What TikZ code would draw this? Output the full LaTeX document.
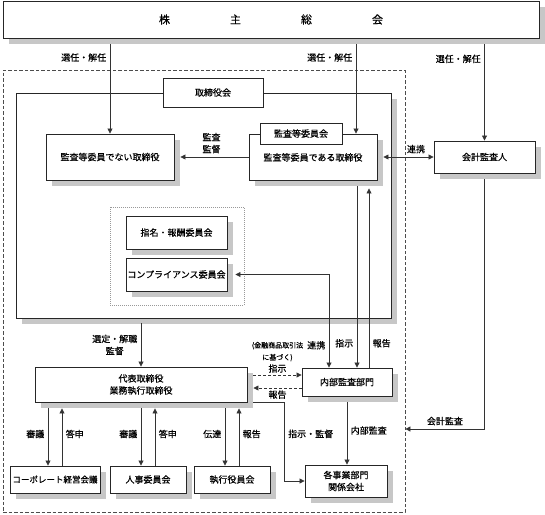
\documentclass[tikz,border=0pt]{standalone}
\usepackage{fontspec}
\setmainfont{Noto Sans CJK JP}[FakeBold=0.5]
\usetikzlibrary{shadows,arrows.meta}
\newcommand\smallnote{\fontsize{7}{9}\selectfont}

\begin{document}
\begin{tikzpicture}[x=1pt,y=-1pt,
  font=\fontsize{9}{12}\selectfont,
  line width=0.8pt, draw=black!80,
  >={Triangle[length=5pt,width=5pt]},
  box/.style={draw=black!85, fill=white, line width=0.9pt, inner sep=0pt, align=center},
  sbox/.style={box, drop shadow={shadow xshift=6pt, shadow yshift=-6pt, fill=black!22, opacity=1}},
  grp/.style={draw=black!70, dash pattern=on 3.5pt off 2pt, line width=0.8pt},
  cmt/.style={draw=black!40, dash pattern=on 1pt off 1pt, line width=0.6pt},
  dsh/.style={dash pattern=on 3pt off 2pt}]

\useasboundingbox (0,0) rectangle (545,514);

% outer group and board
\node[grp, minimum width=402pt, minimum height=442pt] (grp) at (204,291) {};
\node[sbox, minimum width=375pt, minimum height=225pt] (board) at (203.5,205.5) {};
\node[box, minimum width=100pt, minimum height=29pt] (bl) at ([xshift=9.5pt]board.north) {取締役会};

% directors
\node[sbox, minimum width=128pt, minimum height=46pt] (nd) at (110,157) {監査等委員でない取締役};
\node[sbox, minimum width=128pt, minimum height=46pt, text depth=-4pt] (ad) at (313,157) {監査等委員である取締役};
\node[box, minimum width=82pt, minimum height=21pt] (ac) at ([xshift=-12pt]ad.north) {監査等委員会};
\node[sbox, minimum width=101pt, minimum height=32pt] (ca) at (484.5,157) {会計監査人};

% committees
\node[cmt, minimum width=134pt, minimum height=98pt] (cg) at (177,256) {};
\node[sbox, minimum width=101pt, minimum height=33pt] (nr) at (176.5,232.5) {指名・報酬委員会};
\node[sbox, minimum width=101pt, minimum height=33pt] (cc) at (176.5,274.5) {コンプライアンス委員会};

% execution
\node[sbox, minimum width=212pt, minimum height=35pt] (ceo) at (141,384.5) {代表取締役\\業務執行取締役};
\node[sbox, minimum width=90pt, minimum height=28pt] (ia) at (347,382) {内部監査部門};
\node[sbox, minimum width=82pt, minimum height=32pt] (ea) at (346,481) {各事業部門\\関係会社};
\node[sbox, minimum width=90pt, minimum height=27pt, font=\fontsize{8.5}{11}\selectfont] (cm) at (55,479.5) {コーポレート経営会議};
\node[sbox, minimum width=76pt, minimum height=27pt] (hr) at (148,479.5) {人事委員会};
\node[sbox, minimum width=76pt, minimum height=27pt] (ex) at (232,479.5) {執行役員会};

% shareholders
\node[sbox, minimum width=536pt, minimum height=37pt, font=\fontsize{11}{13}\selectfont] (gm) at (271,19.5)
  {株\hspace{60pt}主\hspace{60pt}総\hspace{60pt}会};

% election
\coordinate (m1) at ([xshift=43pt]ad.north);
\draw[->, shorten <=6pt] (gm.south -| nd.north) -- node[pos=0.2, left] {選任・解任} (nd.north);
\draw[->, shorten <=6pt] (gm.south -| m1) -- node[pos=0.2, left] {選任・解任} (m1);
\draw[->, shorten <=6pt] (gm.south -| ca.north) -- node[pos=0.2, left] {選任・解任} (ca.north);

\draw[->, shorten >=6pt] (ad.west) -- node[above, align=center] {監査\\監督} (nd.east);
\draw[<->] ([xshift=6pt]ad.east) -- node[pos=0.65, above] {連携} (ca.west);
\draw[->, shorten <=6pt] (ca.south) |- node[pos=0.75, above] {会計監査} (grp.east |- 0,429);

\draw[->, shorten <=5pt] (board.south -| ceo.north) -- node[pos=0.55, left, align=center] {選定・解職\\監督} (ceo.north);

% internal audit
\draw[<->] ([xshift=-18pt]ia.north) |- node[pos=0.12, left] {連携} ([xshift=8pt]cc.east);
\draw[->, shorten <=6pt] ([xshift=44pt]ad.south) -- node[pos=0.87, left] {指示} ([xshift=10pt]ia.north);
\draw[->, shorten >=8pt] ([xshift=22pt]ia.north) -- node[pos=0.13, right] {報告} ([xshift=56pt]ad.south);

\draw[->, dsh] ([xshift=6pt,yshift=9.5pt]ceo.east) -- node[above, align=center, inner sep=2pt]
  {{\smallnote (金融商品取引法}\\{\smallnote に基づく)}\\指示} ([yshift=7pt]ia.west);
\draw[->, dsh] ([yshift=-6pt]ia.west) -- node[below, inner sep=2pt] {報告} ([xshift=6pt,yshift=-3.5pt]ceo.east);

\draw[->] ([xshift=6pt]ceo.south east) -- ++(31,0) |- node[pos=0.2, right] {指示・監督} (ea.west);
\draw[->, shorten <=6pt] (ia.south) -- node[right] {内部監査} (ia.south |- ea.north);

% meetings
\foreach \b/\d/\u in {cm/審議/答申, hr/審議/答申, ex/伝達/報告} {
  \coordinate (\b-d) at ([xshift=-7pt]\b.north);
  \coordinate (\b-u) at ([xshift=7pt]\b.north);
  \draw[->, shorten <=6pt] (\b-d |- ceo.south) -- node[left] {\d} (\b-d);
  \draw[->, shorten >=6pt] (\b-u) -- node[right] {\u} (\b-u |- ceo.south);
}

\end{tikzpicture}
\end{document}
